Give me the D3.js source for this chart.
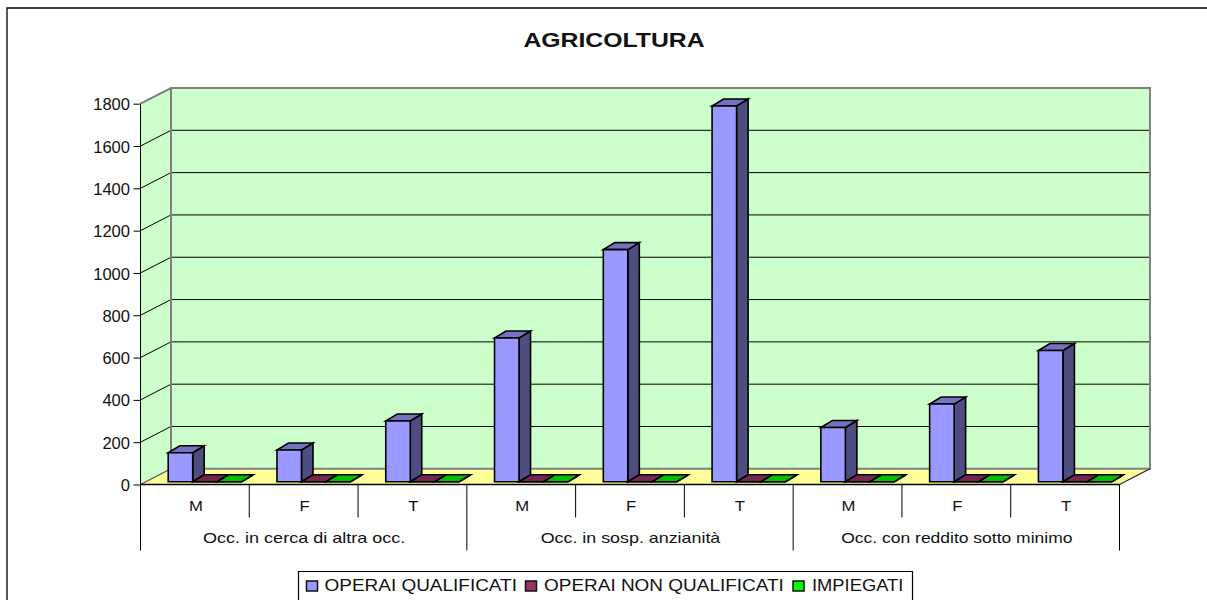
<!DOCTYPE html>
<html><head><meta charset="utf-8">
<script src="https://cdn.jsdelivr.net/npm/d3@7"></script>
<style>html,body{margin:0;padding:0;background:#fff;overflow:hidden}svg{display:block}text{font-family:"Liberation Sans",Arial,sans-serif;fill:#111}</style>
</head><body><svg id="c" width="1207" height="600"></svg>
<script>
const title = "AGRICOLTURA";
const groups = ["Occ. in cerca di altra occ.","Occ. in sosp. anzianità","Occ. con reddito sotto minimo"];
const subcats = ["M","F","T"];
const seriesNames = ["OPERAI QUALIFICATI","OPERAI NON QUALIFICATI","IMPIEGATI"];
const operaiQualificati = [137,150,287,679,1097,1776,256,367,620];
const operaiNonQualificati = [0,0,0,0,0,0,0,0,0];
const impiegati = [0,0,0,0,0,0,0,0,0];
const yTicks = [0,200,400,600,800,1000,1200,1400,1600,1800];
const seriesValues = [operaiQualificati,operaiNonQualificati,impiegati];
const faces = [
 {front:"#9999ff",top:"#7373bf",side:"#4d4d80"},
 {front:"#993366",top:"#732650",side:"#4d1a33"},
 {front:"#00ff00",top:"#00bf00",side:"#008000"}];

const svg = d3.select("#c");
const L=140.5,R=1119.5,Y0=484.5,Y1=103.7,DX=30.5,DY=-15.7;
const y = d3.scaleLinear().domain([0,1800]).range([Y0,Y1]);
const slots = d3.range(9);
const x = d3.scaleBand().domain(slots).range([L,R]).padding(0);
const xg = d3.scaleBand().domain(d3.range(3)).range([L,R]).padding(0);
const poly = (g,pts,fill,stroke,w)=>g.append("polygon").attr("points",pts.map(p=>p.join(",")).join(" ")).attr("fill",fill).attr("stroke",stroke||"none").attr("stroke-width",w||0).attr("stroke-linejoin","miter");
const line=(g,a,b,c,w)=>g.append("line").attr("x1",a[0]).attr("y1",a[1]).attr("x2",b[0]).attr("y2",b[1]).attr("stroke",c).attr("stroke-width",w);
// the reference's lettering is horizontally stretched
const stretch=(sel,f)=>sel.each(function(){
  const w=this.getComputedTextLength();
  d3.select(this).attr("textLength",w*f).attr("lengthAdjust","spacingAndGlyphs");
});

// frame
svg.append("path").attr("d","M7,600V8H1207").attr("fill","none").attr("stroke","#000").attr("stroke-width",1.3);

// title
svg.append("text").attr("x",614).attr("y",46.5).attr("text-anchor","middle").attr("font-weight","bold").attr("font-size",20.5).text(title).call(stretch,1.208);

// walls and floor
const walls = svg.append("g");
poly(walls,[[L,Y1],[L+DX,Y1+DY],[L+DX,Y0+DY],[L,Y0]],"#ccffcc");
poly(walls,[[L+DX,Y1+DY],[R+DX,Y1+DY],[R+DX,Y0+DY],[L+DX,Y0+DY]],"#ccffcc");
poly(walls,[[L,Y0],[L+DX,Y0+DY],[R+DX,Y0+DY],[R,Y0]],"#ffff99");
yTicks.slice(1,-1).forEach(t=>{
  line(walls,[L,y(t)],[L+DX,y(t)+DY],"#000",1);
  line(walls,[L+DX,y(t)+DY],[R+DX,y(t)+DY],"#000",1);
});
walls.append("path").attr("d",`M${L},${Y1}L${L+DX},${Y1+DY}H${R+DX}V${Y0+DY}H${L+DX}V${Y1+DY}`).attr("fill","none").attr("stroke","#808080").attr("stroke-width",2);
line(walls,[L,Y0],[L+DX,Y0+DY],"#555",1.2);
line(walls,[R,Y0],[R+DX,Y0+DY],"#222",1.2);

// y axis
const ax = svg.append("g").attr("transform",`translate(${L},0)`).call(d3.axisLeft(y).tickValues(yTicks).tickSize(7).tickPadding(3.5).tickFormat(d3.format("d")));
ax.selectAll("text").attr("font-size",16).attr("fill","#111").attr("dy","0.38em").style("font-family",'"Liberation Sans",Arial,sans-serif').call(stretch,1.035);
ax.selectAll("line").attr("stroke","#000");
ax.select(".domain").attr("stroke","#000").attr("d",`M0,${Y1}V${Y0}`);

// bars
const BW=24.5,BX=27.7,BDX=11.5,BDY=-7,BASE=2.8;
const bars = svg.append("g");
seriesValues.forEach((vals,s)=>{
  vals.forEach((v,i)=>{
    const x0=x(i)+BX+s*BW, x1=x0+BW, yb=y(0)-BASE, yt=yb-(y(0)-y(v));
    const g=bars.append("g");
    poly(g,[[x1,yb],[x1+BDX,yb+BDY],[x1+BDX,yt+BDY],[x1,yt]],faces[s].side,"#000",1.6);
    poly(g,[[x0,yt],[x1,yt],[x1+BDX,yt+BDY],[x0+BDX,yt+BDY]],faces[s].top,"#000",1.6);
    poly(g,[[x0,yb],[x1,yb],[x1,yt],[x0,yt]],faces[s].front,"#000",1.6);
  });
});
line(svg,[L,Y0],[R,Y0],"#000",1.6);

// category axis
const cat = svg.append("g");
slots.concat([9]).forEach(i=>{
  const xx=L+i*x.bandwidth();
  line(cat,[xx,Y0],[xx,i%3===0?550.5:517.5],"#000",1);
});
slots.forEach(i=>cat.append("text").attr("x",x(i)+x.bandwidth()/2+1).attr("y",511).attr("text-anchor","middle").attr("font-size",14.5).text(subcats[i%3]).call(stretch,1.15));
const groupStretch=[1.2,1.19,1.165];
groups.forEach((g,i)=>cat.append("text").attr("x",xg(i)+xg.bandwidth()/2+0.5).attr("y",543).attr("text-anchor","middle").attr("font-size",15).text(g).call(stretch,groupStretch[i]));

// legend
const leg = svg.append("g");
leg.append("path").attr("d","M298.5,600V571.5H912.5V600").attr("fill","none").attr("stroke","#000").attr("stroke-width",1.2);
const legX=[306.5,525.5,793];
const legT=[324.5,544,812];
const legStretch=[1.185,1.185,1.145];
seriesNames.forEach((n,s)=>{
  leg.append("rect").attr("x",legX[s]).attr("y",581).attr("width",11).attr("height",10).attr("fill",faces[s].front).attr("stroke","#111").attr("stroke-width",1.5);
  leg.append("text").attr("x",legT[s]).attr("y",590.5).attr("font-size",16).text(n).call(stretch,legStretch[s]);
});
</script></body></html>
